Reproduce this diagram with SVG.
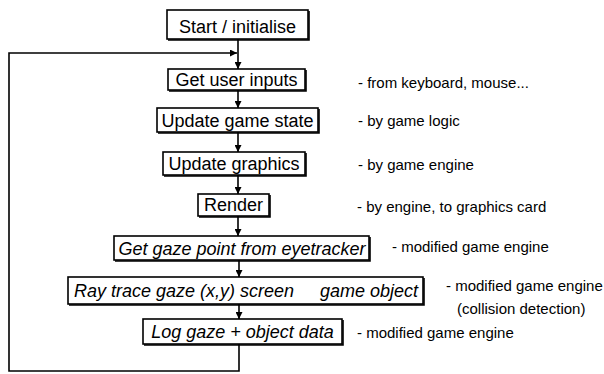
<svg xmlns="http://www.w3.org/2000/svg" width="604" height="374" viewBox="0 0 604 374">
  <style>
    .box { fill: #ffffff; stroke: #000000; stroke-width: 1.6; }
    .shade { fill: none; stroke: #000000; stroke-width: 1.6; }
    .lbl { font-family: "Liberation Sans", Arial, sans-serif; font-size: 18px; fill: #000000; text-anchor: middle; }
    .it { font-style: italic; }
    .note { font-family: "Liberation Sans", Arial, sans-serif; font-size: 15px; fill: #000000; }
    .wire { fill: none; stroke: #000000; stroke-width: 1.6; }
  </style>
  <defs>
    <marker id="head" viewBox="0 0 10 10" refX="10" refY="5" markerWidth="7" markerHeight="7" markerUnits="userSpaceOnUse" orient="auto">
      <path d="M0,0 L10,5 L0,10 z" fill="#000000"/>
    </marker>
  </defs>
  <rect width="604" height="374" fill="#ffffff"/>

  <!-- connectors -->
  <g id="connectors">
    <line class="wire" x1="238" y1="39" x2="238" y2="69" marker-end="url(#head)"/>
    <line class="wire" x1="238" y1="90" x2="238" y2="108" marker-end="url(#head)"/>
    <line class="wire" x1="238" y1="132" x2="238" y2="152" marker-end="url(#head)"/>
    <line class="wire" x1="238" y1="175" x2="238" y2="194" marker-end="url(#head)"/>
    <line class="wire" x1="238" y1="216" x2="238" y2="236" marker-end="url(#head)"/>
    <line class="wire" x1="239" y1="260" x2="239" y2="277" marker-end="url(#head)"/>
    <line class="wire" x1="239" y1="304" x2="239" y2="319" marker-end="url(#head)"/>
    <polyline class="wire" points="239,344 239,371 9,371 9,53 237,53" marker-end="url(#head)"/>
  </g>

  <g id="start">
    <rect class="box" x="167" y="10" width="141" height="29"/>
    <polyline class="shade" points="309,11 309,40 168,40"/>
    <text class="lbl" x="237.5" y="33">Start / initialise</text>
  </g>
  <g id="inputs">
    <rect class="box" x="168" y="69" width="137" height="21"/>
    <polyline class="shade" points="306,70 306,91 169,91"/>
    <text class="lbl" x="236.5" y="86">Get user inputs</text>
  </g>
  <g id="state">
    <rect class="box" x="157" y="108" width="161" height="24"/>
    <polyline class="shade" points="319,109 319,133 158,133"/>
    <text class="lbl" x="237.5" y="127">Update game state</text>
  </g>
  <g id="graphics">
    <rect class="box" x="163" y="152" width="142" height="23"/>
    <polyline class="shade" points="306,153 306,176 164,176"/>
    <text class="lbl" x="234" y="170">Update graphics</text>
  </g>
  <g id="render">
    <rect class="box" x="198" y="194" width="71" height="22"/>
    <polyline class="shade" points="270,195 270,217 199,217"/>
    <text class="lbl" x="233.5" y="211">Render</text>
  </g>
  <g id="gaze">
    <rect class="box" x="114" y="236" width="255" height="24"/>
    <polyline class="shade" points="370,237 370,261 115,261"/>
    <text class="lbl it" x="242" y="255">Get gaze point from eyetracker</text>
  </g>
  <g id="raytrace">
    <rect class="box" x="68" y="277" width="355" height="27"/>
    <polyline class="shade" points="424,278 424,305 69,305"/>
    <text class="lbl it" x="74" y="297" style="text-anchor:start">Ray trace gaze (x,y) screen</text>
    <text class="lbl it" x="418" y="297" style="text-anchor:end">game object</text>
  </g>
  <g id="log">
    <rect class="box" x="143" y="319" width="199" height="25"/>
    <polyline class="shade" points="343,320 343,345 144,345"/>
    <text class="lbl it" x="242.5" y="338">Log gaze + object data</text>
  </g>

  <g id="notes">
    <text class="note" x="358" y="88">- from keyboard, mouse...</text>
    <text class="note" x="358" y="126">- by game logic</text>
    <text class="note" x="358" y="170">- by game engine</text>
    <text class="note" x="357" y="212">- by engine, to graphics card</text>
    <text class="note" x="392" y="252">- modified game engine</text>
    <text class="note" x="446" y="291">- modified game engine</text>
    <text class="note" x="457" y="314">(collision detection)</text>
    <text class="note" x="357" y="338">- modified game engine</text>
  </g>
</svg>
